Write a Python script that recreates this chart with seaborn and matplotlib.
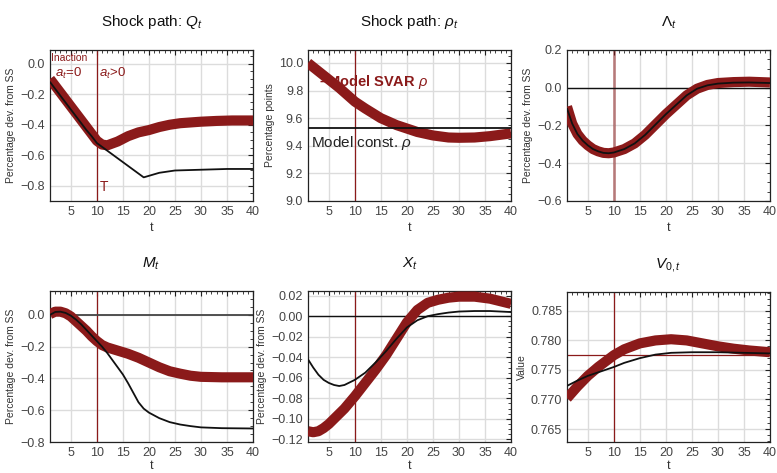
import numpy as np
import pandas as pd
import matplotlib
matplotlib.use("Agg")
import matplotlib.pyplot as plt
import seaborn as sns
from matplotlib.ticker import MultipleLocator

# --- data ---
t_q = [1, 2, 3, 4, 5, 6, 7, 8, 9, 10, 11, 12, 14, 16, 18, 20, 22, 24, 26, 28, 30, 33, 36, 40]
q_svar = [-0.10, -0.145, -0.19, -0.235, -0.28, -0.325, -0.37, -0.415, -0.46, -0.505, -0.53, -0.535,
          -0.51, -0.475, -0.45, -0.435, -0.415, -0.40, -0.39, -0.385, -0.38, -0.375, -0.372, -0.372]
t_q2 = [1, 2, 3, 4, 5, 6, 7, 8, 9, 10, 12, 14, 16, 18, 19, 20, 22, 25, 30, 35, 40]
q_const = [-0.12, -0.165, -0.21, -0.255, -0.30, -0.345, -0.39, -0.435, -0.475, -0.52, -0.57, -0.62,
           -0.67, -0.72, -0.745, -0.735, -0.715, -0.70, -0.695, -0.69, -0.69]

t_rho = [1, 3, 5, 7, 10, 12, 15, 18, 20, 22, 25, 28, 30, 33, 36, 40]
rho_svar = [10.0, 9.94, 9.88, 9.82, 9.72, 9.67, 9.60, 9.55, 9.525, 9.50, 9.475, 9.46, 9.458, 9.46, 9.47, 9.49]
rho_const = 9.53

t_lam = [1, 2, 3, 4, 5, 6, 7, 8, 9, 10, 12, 14, 16, 18, 20, 22, 24, 26, 28, 30, 33, 36, 40]
lam_svar = [-0.10, -0.19, -0.245, -0.28, -0.305, -0.325, -0.337, -0.345, -0.347, -0.343, -0.325, -0.295,
            -0.25, -0.195, -0.14, -0.09, -0.04, -0.005, 0.015, 0.025, 0.03, 0.032, 0.028]
lam_const = [-0.11, -0.19, -0.245, -0.28, -0.305, -0.325, -0.337, -0.345, -0.347, -0.343, -0.325, -0.295,
             -0.25, -0.195, -0.14, -0.09, -0.04, -0.005, 0.013, 0.022, 0.027, 0.028, 0.025]

t_m = [1, 2, 3, 4, 5, 6, 7, 8, 9, 10, 11, 12, 14, 16, 18, 20, 22, 24, 26, 28, 30, 34, 40]
m_svar = [0.005, 0.02, 0.02, 0.01, -0.01, -0.04, -0.07, -0.10, -0.135, -0.165, -0.19, -0.205, -0.225,
          -0.245, -0.27, -0.30, -0.33, -0.355, -0.37, -0.383, -0.39, -0.393, -0.393]
t_m2 = [1, 2, 3, 4, 5, 6, 7, 8, 9, 10, 11, 12, 13, 14, 15, 16, 17, 18, 19, 20, 22, 24, 26, 28, 30, 34, 40]
m_const = [0.0, 0.018, 0.02, 0.012, -0.005, -0.03, -0.06, -0.095, -0.13, -0.165, -0.20, -0.24, -0.285,
           -0.33, -0.375, -0.43, -0.49, -0.55, -0.59, -0.615, -0.65, -0.675, -0.69, -0.70, -0.708, -0.713, -0.715]

t_x = [1, 2, 3, 4, 5, 6, 7, 8, 10, 12, 14, 16, 18, 20, 22, 24, 26, 28, 30, 33, 36, 40]
x_svar = [-0.112, -0.113, -0.112, -0.109, -0.105, -0.100, -0.095, -0.090, -0.078, -0.065, -0.052, -0.038,
          -0.022, -0.006, 0.006, 0.013, 0.016, 0.018, 0.019, 0.019, 0.017, 0.012]
x_const = [-0.042, -0.050, -0.057, -0.062, -0.065, -0.067, -0.068, -0.067, -0.062, -0.055, -0.045, -0.034,
           -0.022, -0.011, -0.004, 0.0, 0.002, 0.0035, 0.0045, 0.005, 0.005, 0.004]

t_v = [1, 3, 5, 7, 10, 12, 15, 18, 21, 24, 27, 30, 33, 36, 40]
v_svar = [0.7702, 0.7722, 0.7740, 0.7755, 0.7775, 0.7785, 0.7795, 0.7800, 0.7802, 0.7800, 0.7795, 0.7790,
          0.7786, 0.7783, 0.7780]
t_v2 = [1, 3, 5, 7, 10, 12, 15, 18, 21, 25, 30, 35, 40]
v_const = [0.7723, 0.7732, 0.7740, 0.7746, 0.7755, 0.7762, 0.7770, 0.7776, 0.7779, 0.7780, 0.7780, 0.7779, 0.7778]
v_ss = 0.7776

T_switch = 10

RED = "#8b1a1a"
GRID = "#dcdcdc"

sns.set_style("white")
plt.rcParams["font.family"] = ["Liberation Sans", "DejaVu Sans"]
plt.rcParams["mathtext.fontset"] = "custom"
plt.rcParams["mathtext.it"] = "Liberation Sans:italic"
plt.rcParams["mathtext.rm"] = "Liberation Sans"

W, H = 777, 473
fig = plt.figure(figsize=(W / 100, H / 100), dpi=100)


def make_ax(x0, y0, x1, y1):
    return fig.add_axes([x0 / W, 1 - y1 / H, (x1 - x0) / W, (y1 - y0) / H])


def style(ax, title, ylabel, ylim, yticks, ymin_step, fmt, xpad=3):
    ax.set_xlim(1, 40)
    ax.set_ylim(*ylim)
    ax.set_xticks([5, 10, 15, 20, 25, 30, 35, 40])
    ax.set_yticks(yticks)
    ax.set_yticklabels([fmt(v) for v in yticks])
    ax.xaxis.set_minor_locator(MultipleLocator(1))
    ax.yaxis.set_minor_locator(MultipleLocator(ymin_step))
    ax.grid(True, which="major", color=GRID, lw=1.0)
    ax.set_axisbelow(True)
    ax.tick_params(which="both", direction="in", top=True, right=True, colors="#222222",
                   labelcolor="#444444", labelsize=9)
    ax.tick_params(which="major", length=3.5, width=0.8)
    ax.tick_params(which="minor", length=2, width=0.6)
    for s in ax.spines.values():
        s.set_color("#222222")
        s.set_linewidth(0.9)
    ax.set_title(title, fontsize=11, pad=17, color="#111111")
    ax.set_ylabel(ylabel, fontsize=7.5, color="#333333", labelpad=3)
    ax.set_xlabel("t", fontsize=9, color="#333333", labelpad=xpad)


def minus(v, d):
    return f"{v:.{d}f}".replace("-", "\u2212")


def line(ax, t, y, kind):
    if kind == "svar":
        sns.lineplot(x=t, y=y, ax=ax, color=RED, lw=7.3, solid_capstyle="butt", zorder=3)
    else:
        sns.lineplot(x=t, y=y, ax=ax, color="#111111", lw=1.3, zorder=4)


# --- Q_t ---
ax = make_ax(50, 50, 253, 201)
ax.axvline(T_switch, color=RED, lw=0.9, zorder=2)
line(ax, t_q, q_svar, "svar")
line(ax, t_q2, q_const, "const")
style(ax, r"Shock path: $Q_t$", "Percentage dev. from SS", (-0.9, 0.09),
      [-0.8, -0.6, -0.4, -0.2, 0.0], 0.05, lambda v: minus(v, 1))
ax.text(1.2, 0.04, "Inaction", color=RED, fontsize=7.5, va="center")
ax.text(2.0, -0.065, r"$a_t$=0", color=RED, fontsize=9.5, va="center")
ax.text(10.5, -0.065, r"$a_t$>0", color=RED, fontsize=9.5, va="center")
ax.text(10.6, -0.81, "T", color=RED, fontsize=10, va="center")

# --- rho_t ---
ax = make_ax(308, 50, 511, 201)
ax.axvline(T_switch, color=RED, lw=0.9, zorder=2)
line(ax, t_rho, rho_svar, "svar")
sns.lineplot(x=[1, 40], y=[rho_const, rho_const], ax=ax, color="#111111", lw=1.3, zorder=4)
style(ax, r"Shock path: $\rho_t$", "Percentage points", (9.0, 10.094),
      [9.0, 9.2, 9.4, 9.6, 9.8, 10.0], 0.05, lambda v: f"{v:.1f}")
ax.text(3.2, 9.865, "\u2013Model SVAR $\\rho$", color=RED,
        fontsize=10.5, fontweight="bold", va="center", zorder=5)
ax.text(1.5, 9.42, r"Model const. $\rho$", color="#222222", fontsize=11, va="center")

# --- Lambda_t ---
ax = make_ax(567, 50, 770, 201)
ax.axvline(T_switch, color=RED, lw=2, alpha=0.5, zorder=2)
ax.axhline(0, color="#111111", lw=1.0, zorder=2)
line(ax, t_lam, lam_svar, "svar")
line(ax, t_lam, lam_const, "const")
style(ax, r"$\Lambda_t$", "Percentage dev. from SS", (-0.6, 0.2),
      [-0.6, -0.4, -0.2, 0.0, 0.2], 0.05, lambda v: minus(v, 1))

# --- M_t ---
ax = make_ax(50, 291, 253, 442)
ax.axvline(T_switch, color=RED, lw=0.9, zorder=2)
ax.axhline(0, color="#444444", lw=1.3, zorder=2)
line(ax, t_m, m_svar, "svar")
line(ax, t_m2, m_const, "const")
style(ax, r"$M_t$", "Percentage dev. from SS", (-0.8, 0.15),
      [-0.8, -0.6, -0.4, -0.2, 0.0], 0.05, lambda v: minus(v, 1), xpad=1)

# --- X_t ---
ax = make_ax(308, 291, 511, 442)
ax.axvline(T_switch, color=RED, lw=0.9, zorder=2)
ax.axhline(0, color="#111111", lw=1.0, zorder=2)
line(ax, t_x, x_svar, "svar")
line(ax, t_x, x_const, "const")
style(ax, r"$X_t$", "Percentage dev. from SS", (-0.1225, 0.0245),
      [-0.12, -0.10, -0.08, -0.06, -0.04, -0.02, 0.0, 0.02], 0.005, lambda v: minus(v, 2), xpad=1)

# --- V_0,t ---
ax = make_ax(567, 292, 770, 442)
ax.axvline(T_switch, color=RED, lw=0.9, zorder=2)
ax.axhline(v_ss, color=RED, lw=0.9, zorder=2)
line(ax, t_v, v_svar, "svar")
line(ax, t_v2, v_const, "const")
style(ax, r"$V_{0,t}$", "Value", (0.7628, 0.7882),
      [0.765, 0.770, 0.775, 0.780, 0.785], 0.001, lambda v: f"{v:.3f}", xpad=1)

fig.savefig("out.png", dpi=100)
